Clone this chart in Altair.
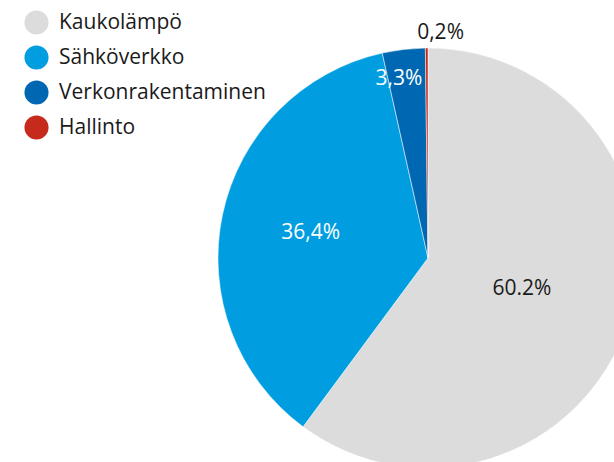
import altair as alt
import pandas as pd

categories = ["Kaukolämpö", "Sähköverkko", "Verkonrakentaminen", "Hallinto"]
shares = [60.2, 36.4, 3.3, 0.2]
labels = ["60.2%", "36,4%", "3,3%", "0,2%"]
colors = ["#dcdcdc", "#009ee0", "#0068b2", "#c52a1c"]

df = pd.DataFrame({
    "cat": categories,
    "share": shares,
    "label": labels,
    "idx": list(range(len(categories))),
})

FONT = "Open Sans"
FS = 21
CX, CY, R = 428, 258, 210

base = alt.Chart(df).encode(
    theta=alt.Theta("share:Q", stack=True),
    order=alt.Order("idx:Q"),
)

pie = base.mark_arc(stroke="white", strokeWidth=0.5).encode(
    x=alt.value(CX),
    y=alt.value(CY),
    radius=alt.value(R),
    color=alt.Color(
        "cat:N",
        scale=alt.Scale(domain=categories, range=colors),
        sort=categories,
        legend=alt.Legend(
            title=None,
            orient="none",
            legendX=24,
            legendY=10,
            symbolType="circle",
            symbolSize=580,
            symbolStrokeWidth=0,
            labelFont=FONT,
            labelFontSize=FS,
            labelColor="#1a1a1a",
            labelOffset=10,
            labelLimit=400,
            rowPadding=10,
        ),
    ),
)

def label_layer(cat, radius, color, dx=0, dy=0):
    return base.mark_text(
        font=FONT, fontSize=FS, color=color, radius=radius, dx=dx, dy=dy
    ).encode(
        x=alt.value(CX),
        y=alt.value(CY),
        text=alt.condition(alt.datum.cat == cat, alt.Text("label:N"), alt.value("")),
    )

chart = alt.layer(
    pie,
    label_layer(categories[0], 99, "#1a1a1a"),
    label_layer(categories[1], 120, "white"),
    label_layer(categories[2], 182, "white", dx=-8, dy=2),
    label_layer(categories[3], 225, "#1a1a1a", dx=14),
).properties(
    width=614,
    height=462,
    autosize=alt.AutoSizeParams(type="none"),
    padding=0,
).configure_view(stroke=None)

chart.save("out.html", embed_options={"renderer": "svg", "actions": False})
